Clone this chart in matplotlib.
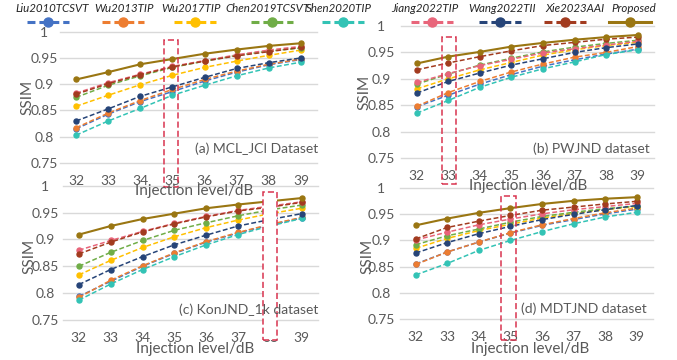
import matplotlib
matplotlib.use("Agg")
import matplotlib.pyplot as plt
from matplotlib.patches import Rectangle
from matplotlib.lines import Line2D

plt.rcParams['font.family'] = ['Lato', 'DejaVu Sans']

# ---------------- data ----------------
levels = [32, 33, 34, 35, 36, 37, 38, 39]
methods = ["Liu2010TCSVT", "Wu2013TIP", "Wu2017TIP", "Chen2019TCSVT", "Shen2020TIP",
           "Jiang2022TIP", "Wang2022TII", "Xie2023AAI", "Proposed"]

mcl_liu      = [0.815, 0.843, 0.867, 0.886, 0.906, 0.923, 0.937, 0.947]
mcl_wu2013   = [0.817, 0.845, 0.869, 0.890, 0.909, 0.925, 0.938, 0.948]
mcl_wu2017   = [0.858, 0.879, 0.899, 0.917, 0.932, 0.944, 0.955, 0.965]
mcl_chen     = [0.875, 0.898, 0.916, 0.932, 0.944, 0.955, 0.963, 0.969]
mcl_shen     = [0.803, 0.830, 0.854, 0.879, 0.898, 0.916, 0.931, 0.942]
mcl_jiang    = [0.883, 0.903, 0.919, 0.934, 0.945, 0.956, 0.965, 0.972]
mcl_wang     = [0.830, 0.853, 0.877, 0.895, 0.913, 0.930, 0.941, 0.950]
mcl_xie      = [0.881, 0.901, 0.918, 0.933, 0.944, 0.954, 0.962, 0.970]
mcl_proposed = [0.909, 0.923, 0.938, 0.948, 0.958, 0.966, 0.973, 0.978]

pw_liu      = [0.847, 0.869, 0.890, 0.908, 0.924, 0.936, 0.947, 0.956]
pw_wu2013   = [0.848, 0.874, 0.895, 0.913, 0.928, 0.941, 0.950, 0.961]
pw_wu2017   = [0.881, 0.900, 0.917, 0.931, 0.945, 0.955, 0.963, 0.969]
pw_chen     = [0.890, 0.909, 0.926, 0.939, 0.951, 0.960, 0.967, 0.973]
pw_shen     = [0.835, 0.859, 0.884, 0.903, 0.919, 0.932, 0.946, 0.955]
pw_jiang    = [0.893, 0.910, 0.925, 0.937, 0.949, 0.957, 0.964, 0.971]
pw_wang     = [0.873, 0.895, 0.911, 0.926, 0.938, 0.950, 0.959, 0.966]
pw_xie      = [0.917, 0.930, 0.942, 0.953, 0.963, 0.969, 0.975, 0.979]
pw_proposed = [0.929, 0.942, 0.951, 0.961, 0.968, 0.974, 0.979, 0.983]

kon_liu      = [0.794, 0.822, 0.850, 0.874, 0.895, 0.912, 0.927, 0.940]
kon_wu2013   = [0.792, 0.824, 0.851, 0.875, 0.896, 0.913, 0.928, 0.941]
kon_wu2017   = [0.834, 0.861, 0.885, 0.905, 0.922, 0.936, 0.948, 0.958]
kon_chen     = [0.850, 0.876, 0.898, 0.917, 0.931, 0.944, 0.955, 0.964]
kon_shen     = [0.787, 0.817, 0.844, 0.868, 0.890, 0.909, 0.925, 0.939]
kon_jiang    = [0.880, 0.898, 0.915, 0.930, 0.943, 0.954, 0.962, 0.970]
kon_wang     = [0.816, 0.844, 0.868, 0.890, 0.908, 0.925, 0.937, 0.948]
kon_xie      = [0.873, 0.895, 0.914, 0.929, 0.942, 0.953, 0.960, 0.969]
kon_proposed = [0.909, 0.925, 0.938, 0.948, 0.958, 0.965, 0.971, 0.977]

mdt_liu      = [0.855, 0.878, 0.897, 0.914, 0.929, 0.940, 0.951, 0.960]
mdt_wu2013   = [0.854, 0.878, 0.897, 0.915, 0.930, 0.942, 0.953, 0.962]
mdt_wu2017   = [0.885, 0.904, 0.919, 0.931, 0.943, 0.952, 0.959, 0.965]
mdt_chen     = [0.892, 0.909, 0.922, 0.935, 0.946, 0.954, 0.961, 0.966]
mdt_shen     = [0.834, 0.856, 0.881, 0.900, 0.917, 0.932, 0.945, 0.954]
mdt_jiang    = [0.901, 0.916, 0.930, 0.941, 0.951, 0.959, 0.965, 0.971]
mdt_wang     = [0.876, 0.896, 0.913, 0.927, 0.940, 0.950, 0.959, 0.967]
mdt_xie      = [0.903, 0.925, 0.937, 0.948, 0.958, 0.964, 0.970, 0.975]
mdt_proposed = [0.929, 0.942, 0.953, 0.962, 0.970, 0.976, 0.980, 0.983]

panel_titles = ["(a) MCL_JCI Dataset", "(b) PWJND dataset", "(c) KonJND_1k dataset", "(d) MDTJND dataset"]
yticks = [0.75, 0.8, 0.85, 0.9, 0.95, 1.0]
ytick_labels = ["0.75", "0.8", "0.85", "0.9", "0.95", "1"]

datasets = [
    [mcl_liu, mcl_wu2013, mcl_wu2017, mcl_chen, mcl_shen, mcl_jiang, mcl_wang, mcl_xie, mcl_proposed],
    [pw_liu, pw_wu2013, pw_wu2017, pw_chen, pw_shen, pw_jiang, pw_wang, pw_xie, pw_proposed],
    [kon_liu, kon_wu2013, kon_wu2017, kon_chen, kon_shen, kon_jiang, kon_wang, kon_xie, kon_proposed],
    [mdt_liu, mdt_wu2013, mdt_wu2017, mdt_chen, mdt_shen, mdt_jiang, mdt_wang, mdt_xie, mdt_proposed],
]

# ---------------- style ----------------
colors = ['#4472C4', '#ED7D31', '#FFC000', '#70AD47', '#33C3B5',
          '#E8657A', '#264478', '#A23B1F', '#9A7612']
GRAY = '#595959'
GRID = '#D9D9D9'
BOXRED = '#D9344F'

W, H = 677, 360
fig = plt.figure(figsize=(W / 100, H / 100), dpi=100)

def fx(px):
    return px / W

def fy(py):
    return 1 - py / H

# axes pixel boxes: x_left, x_right, y(top=1.0), y(bottom=0.75)
ax_boxes = [(60, 317, 31.7, 163), (401, 653.5, 26, 158),
            (63, 317.7, 185.7, 320), (400, 652.5, 188.3, 318.7)]
ytick_center_x = [44, 381, 45, 381]
xlabel_pos = [(194, 190.5), (528, 186), (195, 349.5), (530, 348.5)]
ylabel_pos = [(27, 97), (364, 92.5), (29, 256), (367, 256)]
title_pos = [(318, 149), (650, 148.3), (318, 310), (647, 308.3)]
boxes = [(164.3, 40, 178.3, 187, False), (441.7, 37, 455.7, 184, False),
         (262.7, 192, 276.7, 340, True), (501, 196, 515.7, 340, False)]

FS = 10
for i, (x0, x1, yt, yb) in enumerate(ax_boxes):
    ax = fig.add_axes([fx(x0), fy(yb), fx(x1) - fx(x0), (yb - yt) / H])
    for j, (series, c) in enumerate(zip(datasets[i], colors)):
        proposed = (j == len(colors) - 1)
        ax.plot(levels, series, color=c, lw=1.5 if proposed else 1.1,
                ls='-' if proposed else (0, (3.2, 1.6)),
                marker='o', ms=3.6, mec=c, mfc=c, zorder=3 + j)
    ax.set_xlim(31.5, 39.5)
    ax.set_ylim(0.75, 1.0)
    ax.set_yticks(yticks)
    ax.set_yticklabels(ytick_labels)
    ax.set_xticks(levels)
    ax.set_xticklabels([str(v) for v in levels])
    ax.grid(axis='y', color=GRID, lw=1.0, zorder=0)
    for ln in ax.get_ygridlines():
        ln.set_clip_on(False)
    for s in ax.spines.values():
        s.set_visible(False)
    pad_y = (x0 - ytick_center_x[i]) * 72 / 100
    ax.tick_params(axis='y', length=0, pad=pad_y, labelsize=FS, labelcolor=GRAY)
    for lab in ax.get_yticklabels():
        lab.set_horizontalalignment('center')
    ax.tick_params(axis='x', length=0, pad=8.5, labelsize=FS, labelcolor=GRAY)
    ax.set_facecolor('none')

    lx, ly = xlabel_pos[i]
    fig.text(fx(lx), fy(ly), "Injection level/dB", ha='center', va='center',
             fontsize=FS + 1, color=GRAY, zorder=5)
    yx, yy = ylabel_pos[i]
    fig.text(fx(yx), fy(yy), "SSIM", ha='center', va='center', rotation=90,
             fontsize=FS + 1, color=GRAY, zorder=5)
    tx, ty = title_pos[i]
    fig.text(fx(tx), fy(ty), panel_titles[i], ha='right', va='center',
             fontsize=FS, color=GRAY, zorder=6)

# highlight boxes
for (bx0, by0, bx1, by1, filled) in boxes:
    r = Rectangle((fx(bx0), fy(by1)), fx(bx1) - fx(bx0), (by1 - by0) / H,
                  transform=fig.transFigure, fill=filled, facecolor='white',
                  edgecolor=BOXRED, lw=1.1, ls=(0, (4, 2)), zorder=4)
    fig.patches.append(r)

# legend across the top
leg_x = [48, 123, 195, 272, 343, 432, 500, 565, 630]
leg_text_x = [52, 124, 191, 267, 339, 425, 502, 575, 634]
for j, (name, c) in enumerate(zip(methods, colors)):
    cx = leg_x[j]
    proposed = (j == len(colors) - 1)
    fig.lines.append(Line2D([fx(cx - 21), fx(cx + 21)], [fy(22), fy(22)],
                            transform=fig.transFigure, color=c, lw=2.2,
                            ls='-' if proposed else (0, (2.6, 1.3))))
    fig.lines.append(Line2D([fx(cx)], [fy(22)], transform=fig.transFigure,
                            color=c, marker='o', ms=6.5, ls='none'))
    fig.text(fx(leg_text_x[j]), fy(8.5), name, ha='center', va='center', fontsize=8.3,
             style='italic', color='#262626')

fig.savefig("out.png", dpi=100)
